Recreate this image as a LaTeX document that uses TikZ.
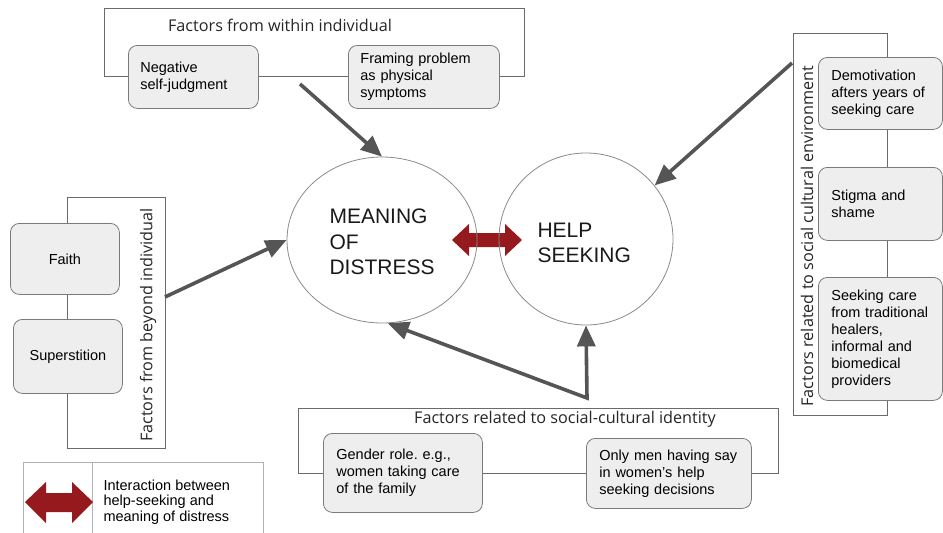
\documentclass[tikz,border=0pt]{standalone}
\usepackage{fontspec}
\setmainfont{Liberation Sans}
\newfontfamily\titlefont{Open Sans}
\usetikzlibrary{shapes.geometric,arrows.meta}
\definecolor{boxfill}{HTML}{EEEEEE}
\definecolor{boxline}{HTML}{7A7A7A}
\definecolor{frameline}{HTML}{6A6A6A}
\definecolor{arrowgray}{HTML}{555555}
\definecolor{darkred}{HTML}{961A1D}
\definecolor{ellline}{HTML}{8A8A8A}
\frenchspacing
\tikzset{
  factorbox/.style={draw=boxline, fill=boxfill, rounded corners=9pt, line width=0.8pt,
    anchor=north west, inner xsep=12pt, inner ysep=0pt, align=left,
    font=\fontsize{14.5}{17}\selectfont},
  centerbox/.style={factorbox, align=center},
  groupframe/.style={draw=frameline, line width=0.8pt},
  grouptitle/.style={font=\titlefont\fontsize{16.2}{19}\selectfont, text=black!85},
  bigellipse/.style={draw=ellline, ellipse, line width=0.8pt},
  elltext/.style={font=\fontsize{21}{25.5}\selectfont, align=left, anchor=west, text=black!90},
  infarrow/.style={draw=arrowgray, line width=3.6pt, line join=miter, -{Triangle[length=21pt,width=18pt]}},
  infarrowboth/.style={draw=arrowgray, line width=3.6pt, line join=miter,
    {Triangle[length=21pt,width=18pt]}-{Triangle[length=21pt,width=18pt]}},
  legendline/.style={draw=gray!60, line width=0.7pt}
}
\begin{document}
\begin{tikzpicture}[x=1pt,y=-1pt]
\useasboundingbox (0,0) rectangle (943,533);

% group frames
\draw[groupframe] (104,8) rectangle (524,76);
\draw[groupframe] (67,197) rectangle (165,448);
\draw[groupframe] (793,33) rectangle (887,415);
\draw[groupframe] (298,408) rectangle (778,473);

% group titles
\node[grouptitle] (ttop) at (280,25) {Factors from within individual};
\node[grouptitle, rotate=90] (tleft) at (148,325) {Factors from beyond individual};
\node[grouptitle, rotate=90] (tright) at (807,236) {Factors related to social cultural environment};
\node[grouptitle] (tbot) at (565,419) {Factors related to social-cultural identity};

% factor boxes
\node[factorbox, text width=106pt, minimum height=63pt] (neg) at (128,45) {Negative\\self-judgment};
\node[factorbox, text width=127pt, minimum height=63pt] (fram) at (348,45) {Framing problem\\as physical\\symptoms};
\node[centerbox, text width=85pt, minimum height=71pt] (faith) at (10,223) {Faith};
\node[centerbox, text width=85pt, minimum height=74pt] (sup) at (13,319) {Superstition};
\node[factorbox, inner xsep=13pt, text width=98pt, minimum height=72pt] (demot) at (818,57) {Demotivation\\afters years of\\seeking care};
\node[factorbox, inner xsep=13pt, text width=98pt, minimum height=73pt] (stig) at (818,167) {Stigma and\\shame};
\node[factorbox, inner xsep=13pt, text width=98pt, minimum height=123pt] (seek) at (818,277) {Seeking care\\from traditional\\healers,\\informal and\\biomedical\\providers};
\node[factorbox, inner xsep=13pt, text width=133pt, minimum height=79pt] (gend) at (323,433) {Gender role. e.g.,\\women taking care\\of the family};
\node[factorbox, inner xsep=13pt, text width=139pt, minimum height=70pt] (men) at (586,438) {Only men having say\\in women's help\\seeking decisions};

% interaction double arrow
\fill[darkred] (452,240) -- (469,224) -- (469,233) -- (505,233) -- (505,224) -- (522,240)
  -- (505,256) -- (505,247) -- (469,247) -- (469,256) -- cycle;

% central ellipses
\node[bigellipse, minimum width=190pt, minimum height=166pt] (mean) at (382,240) {};
\node[bigellipse, minimum width=174pt, minimum height=172pt] (help) at (586,239) {};
\node[elltext] (meantxt) at (326,242) {MEANING\\OF\\DISTRESS};
\node[elltext] (helptxt) at (534,243) {HELP\\SEEKING};

% influence arrows
\coordinate (topstart) at (300,84);
\coordinate (leftstart) at (165,297);
\coordinate (rightstart) at (792,63);
\coordinate (botjoin) at (587,398);
\draw[infarrow] (topstart) -- (mean.north);
\draw[infarrow] (leftstart) -- (mean.west);
\draw[infarrow] (rightstart) -- (help.38);
\draw[infarrowboth] (mean.-86) -- (botjoin) -- (help.south);

% legend
\draw[legendline] (23,533) -- (23,462) -- (263,462) -- (263,533);
\draw[legendline] (92,462) -- (92,533);
\fill[darkred] (25,502) -- (46,482) -- (46,493) -- (72,493) -- (72,482) -- (93,502)
  -- (72,523) -- (72,512) -- (46,512) -- (46,523) -- cycle;
\node[anchor=west, align=left, font=\fontsize{14.5}{15.5}\selectfont] (legtxt) at (100,502)
  {Interaction between\\help-seeking and\\meaning of distress};
\end{tikzpicture}
\end{document}
